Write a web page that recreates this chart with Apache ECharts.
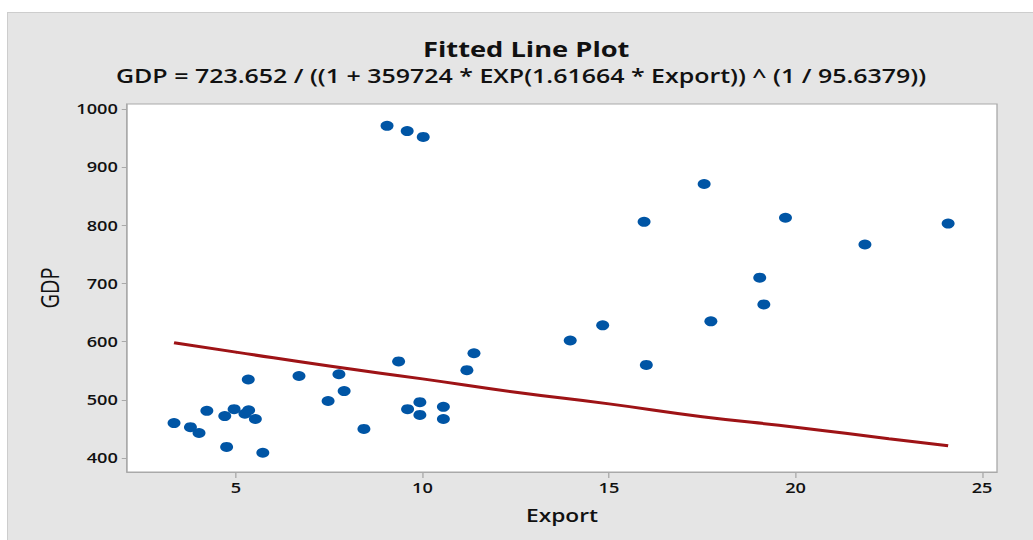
<!DOCTYPE html>
<html>
<head>
<meta charset="utf-8">
<script src="https://cdn.jsdelivr.net/npm/echarts@6/dist/echarts.min.js"></script>
<style>
html,body{margin:0;padding:0;background:#ffffff;width:1033px;height:540px;overflow:hidden;}
#panel{position:absolute;left:7px;top:12px;width:1040px;height:540px;background:#e5e5e5;border-left:1px solid #cdcdcd;border-top:1px solid #cdcdcd;box-sizing:border-box;}
#chart{position:absolute;left:0;top:0;width:795px;height:540px;transform:scaleX(1.29937);transform-origin:0 0;}
</style>
</head>
<body>
<div id="panel"></div>
<div id="chart"></div>
<script>
// Observed data (Export, GDP)
var exportValues = [3.34, 3.78, 4.01, 4.22, 4.70, 4.75, 4.95, 5.24, 5.34, 5.33, 5.52, 5.72, 6.69, 7.47, 7.76, 7.90, 8.43, 9.36, 9.60, 9.93, 9.93, 10.56, 10.56, 11.19, 11.38, 9.05, 9.59, 10.02, 13.96, 14.83, 15.94, 16.00, 17.55, 17.73, 19.04, 19.15, 19.73, 21.86, 24.09];
var gdpValues    = [460, 453, 443, 481, 472, 419, 484, 476, 482, 535, 467, 409, 541, 498, 544, 515, 450, 566, 484, 496, 474, 488, 467, 551, 580, 971, 962, 952, 602, 628, 806, 560, 871, 635, 710, 664, 813, 767, 803];
// Fitted line
var fitExport = [3.34, 5, 7.5, 10, 12.5, 15, 17.5, 20, 22.5, 24.09];
var fitGdp    = [598, 582, 558, 536, 513, 493, 471, 453, 433, 421];
// Tick labels
var xTicks = [5, 10, 15, 20, 25];
var yTicks = [400, 500, 600, 700, 800, 900, 1000];

var titleText = 'Fitted Line Plot';
var subText = 'GDP = 723.652 / ((1 + 359724 * EXP(1.61664 * Export)) ^ (1 / 95.6379))';

var font = '"Open Sans", "Noto Sans", sans-serif';
var scatterData = exportValues.map(function(x, i){ return [x, gdpValues[i]]; });
var fitData = fitExport.map(function(x, i){ return [x, fitGdp[i]]; });

var chart = echarts.init(document.getElementById('chart'), null, {renderer:'svg'});
chart.setOption({
  backgroundColor: 'transparent',
  animation: false,
  title: [
    {text: titleText, left: 405, top: 38, textAlign: 'center', padding: 0,
     textStyle: {fontFamily: font, fontSize: 21, fontWeight: 'bold', color: '#111'}},
    {text: subText, left: 401, top: 66, textAlign: 'center', padding: 0,
     textStyle: {fontFamily: font, fontSize: 19.2, fontWeight: 600, color: '#111'}}
  ],
  grid: {left: 97.7, top: 104, width: 669.6, height: 368, show: true,
         backgroundColor: '#ffffff', borderColor: '#a9a9a9', borderWidth: 1},
  xAxis: {
    type: 'value', min: 2.078, max: 25.4,
    name: 'Export', nameLocation: 'middle', nameGap: 34,
    nameTextStyle: {fontFamily: font, fontSize: 17.5, fontWeight: 600, color: '#111'},
    axisLine: {show: true, lineStyle: {color: '#a9a9a9', width: 1}},
    axisTick: {show: true, length: 6, customValues: xTicks, lineStyle: {color: '#a9a9a9'}},
    axisLabel: {customValues: xTicks, margin: 9, fontFamily: font, fontSize: 14, fontWeight: 600, color: '#111'},
    splitLine: {show: false}
  },
  yAxis: {
    type: 'value', min: 375.9, max: 1008.6,
    name: 'GDP', nameLocation: 'middle', nameGap: 49, nameRotate: 90,
    nameTextStyle: {fontFamily: font, fontSize: 20, fontWeight: 'normal', color: '#111'},
    axisLine: {show: true, lineStyle: {color: '#a9a9a9', width: 1}},
    axisTick: {show: true, length: 4, customValues: yTicks, lineStyle: {color: '#a9a9a9'}},
    axisLabel: {customValues: yTicks, margin: 7, fontFamily: font, fontSize: 14, fontWeight: 600, color: '#111',
                formatter: function(v){ return String(v); }},
    splitLine: {show: false}
  },
  series: [
    {type: 'scatter', data: scatterData, symbol: 'circle', symbolSize: 10,
     itemStyle: {color: '#0055a5', opacity: 1}, z: 2},
    {type: 'line', data: fitData, smooth: true, showSymbol: false,
     lineStyle: {color: '#9e1316', width: 3}, z: 3}
  ]
});
</script>
</body>
</html>
